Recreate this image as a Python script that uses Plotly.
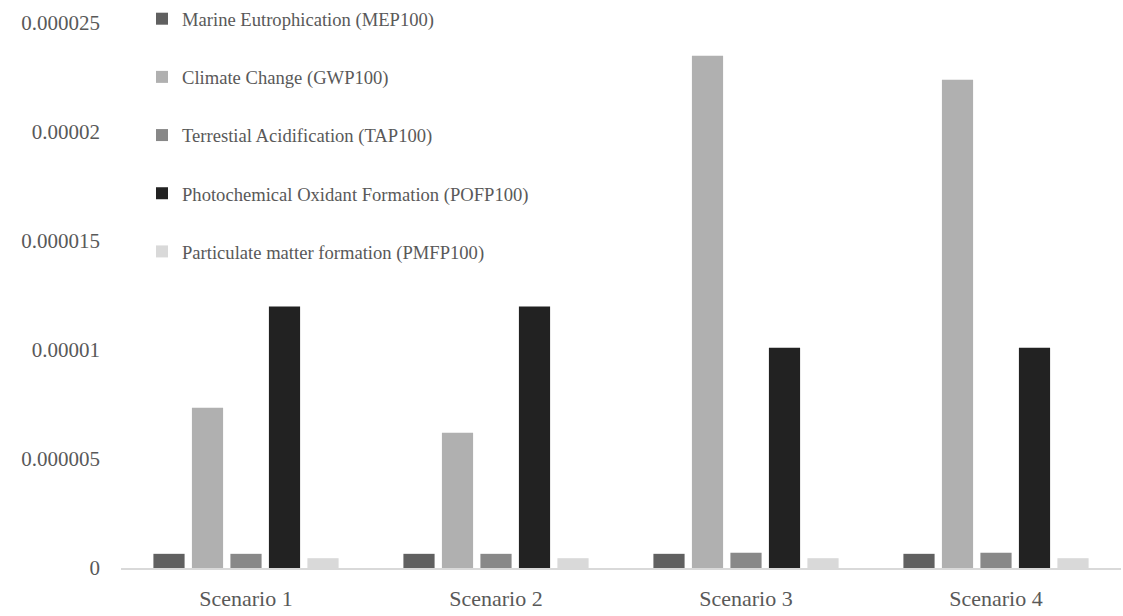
import plotly.graph_objects as go

scenarios = ["Scenario 1", "Scenario 2", "Scenario 3", "Scenario 4"]

series_names = [
    "Marine Eutrophication (MEP100)",
    "Climate Change (GWP100)",
    "Terrestial Acidification (TAP100)",
    "Photochemical Oxidant Formation (POFP100)",
    "Particulate matter formation (PMFP100)",
]

mep = [0.00000065, 0.00000065, 0.00000065, 0.00000065]
gwp = [0.00000735, 0.0000062, 0.0000235, 0.0000224]
tap = [0.00000065, 0.00000065, 0.0000007, 0.0000007]
pofp = [0.000012, 0.000012, 0.0000101, 0.0000101]
pmfp = [0.00000045, 0.00000045, 0.00000045, 0.00000045]

series_values = [mep, gwp, tap, pofp, pmfp]
colors = ["#606060", "#b0b0b0", "#888888", "#222222", "#d9d9d9"]

y_tick_vals = [0, 0.000005, 0.00001, 0.000015, 0.00002, 0.000025]
y_tick_text = ["0", "0.000005", "0.00001", "0.000015", "0.00002", "0.000025"]

font_family = "Liberation Serif, Times New Roman, serif"
text_color = "#595959"

fig = go.Figure()
for i, (name, vals, col) in enumerate(zip(series_names, series_values, colors)):
    fig.add_trace(go.Bar(
        x=scenarios, y=vals, name=name,
        marker=dict(color=col, line=dict(width=0)),
        legendgroup=f"g{i}",
    ))

fig.update_layout(
    width=1123, height=616,
    margin=dict(l=121, r=2, t=23, b=48, autoexpand=False),
    paper_bgcolor="white", plot_bgcolor="white",
    barmode="group", bargap=0.23, bargroupgap=0.19,
    font=dict(family=font_family, color=text_color),
    showlegend=True,
    legend=dict(
        x=0.021, xanchor="left", y=1.042, yanchor="top",
        font=dict(size=18.6, family=font_family, color=text_color),
        tracegroupgap=31, bgcolor="rgba(0,0,0,0)",
        itemclick=False,
    ),
    xaxis=dict(
        showline=True, linecolor="#d9d9d9", linewidth=1.5,
        showgrid=False, ticks="", zeroline=False,
        tickfont=dict(size=22, family=font_family, color=text_color),
        ticklabelstandoff=10,
    ),
    yaxis=dict(
        range=[0, 0.000025], tickvals=y_tick_vals, ticktext=y_tick_text,
        showline=False, showgrid=False, zeroline=False, ticks="",
        tickfont=dict(size=21, family=font_family, color=text_color),
        ticklabelstandoff=20,
    ),
)

fig.write_html("out.html")
